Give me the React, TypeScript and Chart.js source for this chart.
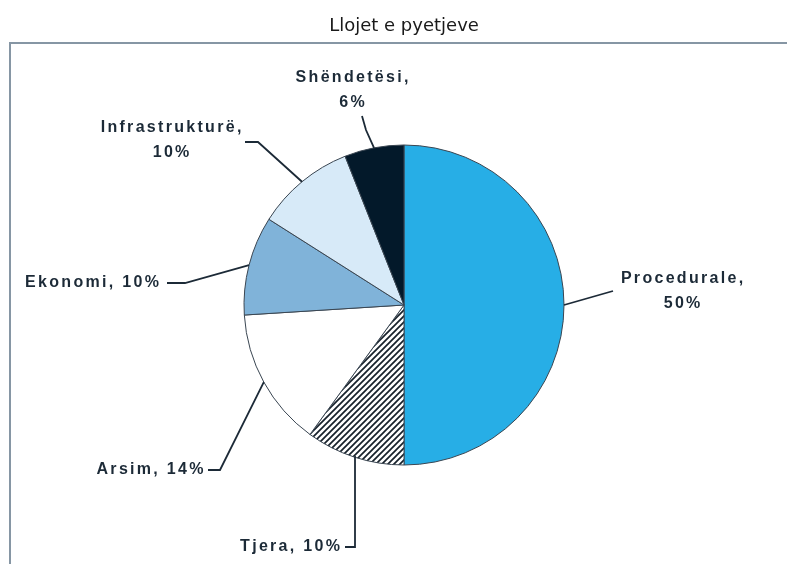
import React, { useEffect, useRef } from "react";
import { Chart, registerables } from "chart.js";

Chart.register(...registerables);

const TITLE = "Llojet e pyetjeve";
const categories = ["Procedurale", "Tjera", "Arsim", "Ekonomi", "Infrastrukturë", "Shëndetësi"];
const values = [50, 10, 14, 10, 10, 6];
const splitLabel = [true, false, false, false, true, true];
const sliceColors = ["#27aee6", "HATCH", "#ffffff", "#80b3d9", "#d7eaf8", "#03192a"];

// label placement relative to pie centre: text centre (dx, dy of first line) and leader elbow points
const labelOffsets = [
  { dx: 278, dy: -26, pts: [[209, -14]] },
  { dx: -114, dy: 242, pts: [[-59, 242], [-49, 242], [-49, 152]] },
  { dx: -254, dy: 165, pts: [[-196, 165], [-184, 165]] },
  { dx: -312, dy: -22, pts: [[-237, -22], [-219, -22]] },
  { dx: -233, dy: -177, pts: [[-159, -163], [-146, -163]] },
  { dx: -52, dy: -227, pts: [[-42, -189], [-38, -175]] },
];

const INK = "#1c2a37";

function makeHatch(): CanvasPattern | string {
  const s = 6;
  const c = document.createElement("canvas");
  c.width = s;
  c.height = s;
  const g = c.getContext("2d");
  if (!g) return "#888";
  g.fillStyle = "#ffffff";
  g.fillRect(0, 0, s, s);
  g.strokeStyle = "#17212b";
  g.lineWidth = 1.7;
  g.beginPath();
  g.moveTo(-1, s + 1);
  g.lineTo(s + 1, -1);
  g.moveTo(-s / 2 - 1, s / 2 + 1);
  g.lineTo(s / 2 + 1, -s / 2 - 1);
  g.moveTo(s / 2 - 1, s * 1.5 + 1);
  g.lineTo(s * 1.5 + 1, s / 2 - 1);
  g.stroke();
  return g.createPattern(c, "repeat") || "#888";
}

const framePlugin = {
  id: "frame",
  beforeDraw(chart: any) {
    const ctx = chart.ctx;
    ctx.save();
    ctx.fillStyle = "#ffffff";
    ctx.fillRect(0, 0, chart.width, chart.height);
    ctx.strokeStyle = "#8696a4";
    ctx.lineWidth = 2;
    ctx.beginPath();
    ctx.moveTo(10, chart.height);
    ctx.lineTo(10, 43);
    ctx.lineTo(chart.width, 43);
    ctx.stroke();
    ctx.restore();
  },
};

const labelPlugin = {
  id: "pieLabels",
  afterDatasetsDraw(chart: any) {
    const ctx = chart.ctx;
    const meta = chart.getDatasetMeta(0);
    ctx.save();
    const ls = 2.3;
    ctx.font = "bold 16px 'Liberation Sans', Arial, sans-serif";
    (ctx as any).letterSpacing = ls + "px";
    ctx.fillStyle = INK;
    ctx.strokeStyle = INK;
    ctx.lineWidth = 1.8;
    ctx.textBaseline = "middle";
    ctx.textAlign = "left";
    meta.data.forEach((arc: any, i: number) => {
      const p = arc.getProps(["x", "y", "startAngle", "endAngle", "outerRadius"], true);
      const cx = p.x;
      const cy = p.y;
      const mid = (p.startAngle + p.endAngle) / 2;
      const ax = cx + Math.cos(mid) * p.outerRadius;
      const ay = cy + Math.sin(mid) * p.outerRadius;
      const off = labelOffsets[i];
      ctx.beginPath();
      off.pts.forEach((pt, k) => {
        if (k === 0) ctx.moveTo(cx + pt[0], cy + pt[1]);
        else ctx.lineTo(cx + pt[0], cy + pt[1]);
      });
      ctx.lineTo(ax, ay);
      ctx.stroke();
      const lines = splitLabel[i]
        ? [categories[i] + ",", values[i] + "%"]
        : [categories[i] + ", " + values[i] + "%"];
      lines.forEach((t, k) => {
        const w = ctx.measureText(t).width - ls;
        ctx.fillText(t, cx + off.dx - w / 2, cy + off.dy + k * 25);
      });
    });
    ctx.restore();
  },
};

export default function App() {
  const ref = useRef<HTMLCanvasElement | null>(null);
  useEffect(() => {
    if (!ref.current) return;
    const hatch = makeHatch();
    const chart = new Chart(ref.current, {
      type: "pie",
      data: {
        labels: categories,
        datasets: [
          {
            data: values,
            backgroundColor: sliceColors.map((c) => (c === "HATCH" ? hatch : c)) as any,
            borderColor: "#3a4652",
            borderWidth: 1,
            radius: 160,
          } as any,
        ],
      },
      options: {
        responsive: false,
        animation: false,
        devicePixelRatio: 1,
        layout: { padding: { left: 21, right: 0, top: 0, bottom: 1.6 } },
        plugins: {
          legend: { display: false },
          tooltip: { enabled: false },
          title: {
            display: true,
            text: TITLE,
            color: "#1a1a1a",
            font: { family: "'DejaVu Sans', sans-serif", size: 18, weight: "normal" },
            padding: { top: 16, bottom: 10 },
          },
        },
      },
      plugins: [framePlugin, labelPlugin],
    });
    return () => chart.destroy();
  }, []);
  return (
    <div style={{ position: "absolute", left: 0, top: 0, width: 787, height: 564 }}>
      <canvas ref={ref} width={787} height={564} />
    </div>
  );
}
